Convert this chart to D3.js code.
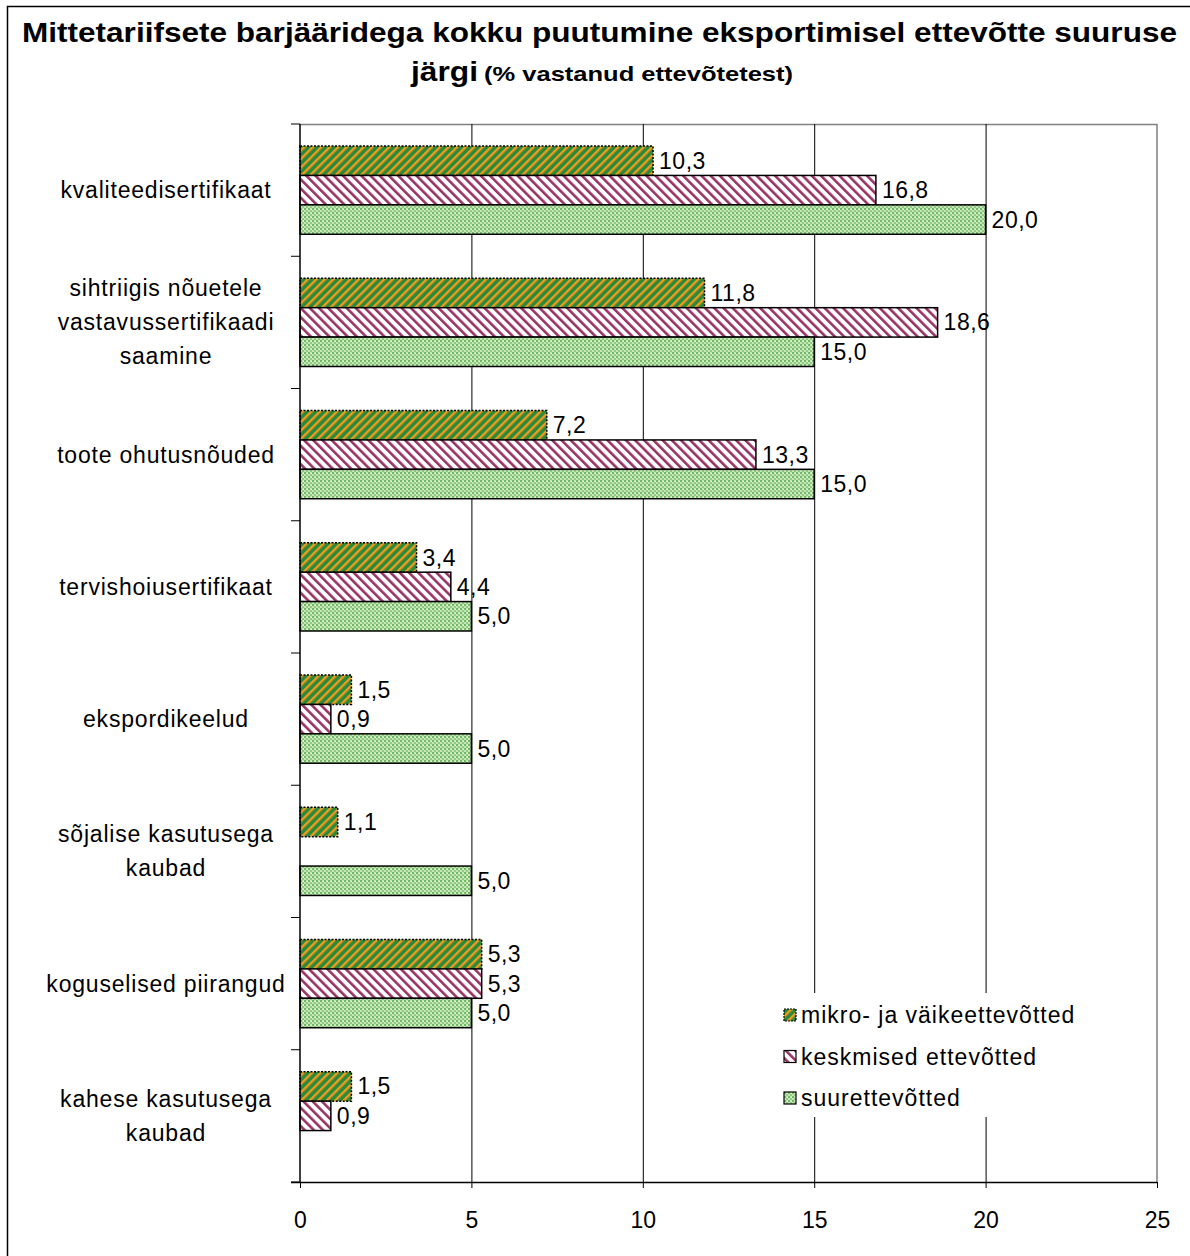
<!DOCTYPE html>
<html>
<head>
<meta charset="utf-8">
<script src="https://cdn.jsdelivr.net/npm/d3@7"></script>
<style>
  body { margin: 0; background: #fff; }
  text { font-family: "Liberation Sans", Arial, sans-serif; fill: #000; }
</style>
</head>
<body>
<div id="chart"></div>
<script>
var categories = [
  "kvaliteedisertifikaat",
  "sihtriigis nõuetele vastavussertifikaadi saamine",
  "toote ohutusnõuded",
  "tervishoiusertifikaat",
  "ekspordikeelud",
  "sõjalise kasutusega kaubad",
  "koguselised piirangud",
  "kahese kasutusega kaubad"
];
var categoryLines = [
  ["kvaliteedisertifikaat"],
  ["sihtriigis nõuetele", "vastavussertifikaadi", "saamine"],
  ["toote ohutusnõuded"],
  ["tervishoiusertifikaat"],
  ["ekspordikeelud"],
  ["sõjalise kasutusega", "kaubad"],
  ["koguselised piirangud"],
  ["kahese kasutusega", "kaubad"]
];
var seriesNames = ["mikro- ja väikeettevõtted", "keskmised ettevõtted", "suurettevõtted"];
var micro = [10.3, 11.8, 7.2, 3.4, 1.5, 1.1, 5.3, 1.5];
var medium = [16.8, 18.6, 13.3, 4.4, 0.9, null, 5.3, 0.9];
var large = [20.0, 15.0, 15.0, 5.0, 5.0, 5.0, 5.0, null];
var xTicks = [0, 5, 10, 15, 20, 25];

var seriesValues = [micro, medium, large];
var width = 1190, height = 1256;

var svg = d3.select("#chart").append("svg")
  .attr("width", width)
  .attr("height", height);

// fill patterns like the old Excel ones
var defs = svg.append("defs");

var p1 = defs.append("pattern")
  .attr("id", "pat0")
  .attr("patternUnits", "userSpaceOnUse")
  .attr("width", 6).attr("height", 6)
  .attr("patternTransform", "rotate(45)");
p1.append("rect").attr("width", 6).attr("height", 6).attr("fill", "#2a8a3a");
p1.append("rect").attr("width", 2.4).attr("height", 6).attr("fill", "#f39a1e");

var p2 = defs.append("pattern")
  .attr("id", "pat1")
  .attr("patternUnits", "userSpaceOnUse")
  .attr("width", 6.5).attr("height", 6.5)
  .attr("patternTransform", "rotate(-45)");
p2.append("rect").attr("width", 6.5).attr("height", 6.5).attr("fill", "#fff");
p2.append("rect").attr("width", 2.6).attr("height", 6.5).attr("fill", "#993366");

var p3 = defs.append("pattern")
  .attr("id", "pat2")
  .attr("patternUnits", "userSpaceOnUse")
  .attr("width", 4).attr("height", 4);
p3.append("rect").attr("width", 4).attr("height", 4).attr("fill", "#c6e6b6");
p3.append("rect").attr("x", 0).attr("y", 0).attr("width", 2).attr("height", 2).attr("fill", "#72b86a");
p3.append("rect").attr("x", 2).attr("y", 2).attr("width", 2).attr("height", 2).attr("fill", "#8fc984");
p3.append("rect").attr("x", 3).attr("y", 1).attr("width", 1).attr("height", 1).attr("fill", "#f4f8dc");

// outer frame
svg.append("rect")
  .attr("x", 7.5).attr("y", 6.5)
  .attr("width", 1200).attr("height", 1300)
  .attr("fill", "none")
  .attr("stroke", "#000")
  .attr("stroke-width", 1.5);

// title
svg.append("text")
  .attr("x", 22).attr("y", 42)
  .attr("font-size", 27)
  .attr("font-weight", "bold")
  .attr("textLength", 1155)
  .attr("lengthAdjust", "spacingAndGlyphs")
  .text("Mittetariifsete barjääridega kokku puutumine eksportimisel ettevõtte suuruse");

svg.append("text")
  .attr("x", 411).attr("y", 81)
  .attr("font-size", 27)
  .attr("font-weight", "bold")
  .attr("textLength", 67)
  .attr("lengthAdjust", "spacingAndGlyphs")
  .text("järgi");
svg.append("text")
  .attr("x", 484).attr("y", 81)
  .attr("font-size", 21)
  .attr("font-weight", "bold")
  .attr("textLength", 309)
  .attr("lengthAdjust", "spacingAndGlyphs")
  .text("(% vastanud ettevõtetest)");

// scales
var x = d3.scaleLinear().domain([0, 25]).range([300, 1157]);
var y = d3.scaleBand()
  .domain(categories)
  .range([124, 1182])
  .paddingInner(0.333)
  .paddingOuter(0.1667);
var ySub = d3.scaleBand()
  .domain(d3.range(seriesValues.length))
  .range([0, y.bandwidth()]);

var fmt = d3.formatLocale({ decimal: ",", thousands: " ", grouping: [3], currency: ["", ""] }).format(".1f");

// plot border (grey)
svg.append("path")
  .attr("d", "M" + x(0) + "," + 124.5 + "H" + x(25) + "V1182")
  .attr("fill", "none")
  .attr("stroke", "#808080")
  .attr("stroke-width", 1.5);

// gridlines
svg.append("g").selectAll("line")
  .data(xTicks.slice(1, -1))
  .join("line")
  .attr("x1", function(d) { return x(d) + 0.5; })
  .attr("x2", function(d) { return x(d) + 0.5; })
  .attr("y1", 124)
  .attr("y2", 1182)
  .attr("stroke", "#000")
  .attr("stroke-width", 1);

// bars
seriesValues.forEach(function(vals, si) {
  var g = svg.append("g");
  var rows = categories.map(function(c, i) { return { cat: c, v: vals[i] }; })
    .filter(function(d) { return d.v != null; });
  g.selectAll("rect")
    .data(rows)
    .join("rect")
    .attr("x", x(0))
    .attr("y", function(d) { return y(d.cat) + ySub(si); })
    .attr("width", function(d) { return x(d.v) - x(0); })
    .attr("height", ySub.bandwidth())
    .attr("fill", "url(#pat" + si + ")")
    .attr("stroke", "#000")
    .attr("stroke-width", 1.5)
    .attr("stroke-dasharray", si === 0 ? "2,1.5" : null);
  g.selectAll("text")
    .data(rows)
    .join("text")
    .attr("x", function(d) { return x(d.v) + 6; })
    .attr("y", function(d) { return y(d.cat) + ySub(si) + ySub.bandwidth() / 2; })
    .attr("dy", "0.35em")
    .attr("font-size", 23)
    .attr("letter-spacing", 0.5)
    .text(function(d) { return fmt(d.v); });
});

// category axis
svg.append("line")
  .attr("x1", x(0)).attr("x2", x(0))
  .attr("y1", 124).attr("y2", 1182)
  .attr("stroke", "#000").attr("stroke-width", 1.5);
var bounds = categories.map(function(c) { return y(c) - y.step() * y.paddingInner() / 2; });
bounds[0] = 124;
bounds.push(1182);
svg.append("g").selectAll("line")
  .data(bounds)
  .join("line")
  .attr("x1", x(0) - 9).attr("x2", x(0))
  .attr("y1", function(d) { return d; })
  .attr("y2", function(d) { return d; })
  .attr("stroke", "#000").attr("stroke-width", 1);

svg.append("g").selectAll("text")
  .data(categories)
  .join("text")
  .attr("text-anchor", "middle")
  .attr("font-size", 23)
  .attr("letter-spacing", 0.8)
  .each(function(c, i) {
    var lines = categoryLines[i];
    var cy = y(c) + y.bandwidth() / 2;
    var lh = 34;
    var top = cy - (lines.length - 1) * lh / 2;
    d3.select(this).selectAll("tspan")
      .data(lines)
      .join("tspan")
      .attr("x", 166)
      .attr("y", function(d, j) { return top + j * lh; })
      .attr("dy", "0.35em")
      .text(function(d) { return d; });
  });

// value axis
var xAxis = d3.axisBottom(x)
  .tickValues(xTicks)
  .tickSize(6)
  .tickPadding(24)
  .tickFormat(d3.format("d"));
var ax = svg.append("g")
  .attr("transform", "translate(0,1182)")
  .call(xAxis);
ax.select(".domain").attr("d", "M" + (x(0) - 9) + ",0.5H" + x(25)).attr("stroke-width", 1.5);
ax.selectAll("text").attr("font-size", 23).attr("font-family", "Liberation Sans, Arial, sans-serif");

// legend (white box hides the gridlines behind it)
var legend = svg.append("g");
legend.append("rect")
  .attr("x", 776).attr("y", 993)
  .attr("width", 314).attr("height", 124)
  .attr("fill", "#fff");
seriesNames.forEach(function(name, i) {
  var ly = 1015 + i * 41.5;
  legend.append("rect")
    .attr("x", 784).attr("y", ly - 6)
    .attr("width", 12).attr("height", 12)
    .attr("fill", "url(#pat" + i + ")")
    .attr("stroke", "#000")
    .attr("stroke-width", 1.2)
    .attr("stroke-dasharray", i === 0 ? "2,1" : null);
  legend.append("text")
    .attr("x", 801).attr("y", ly)
    .attr("dy", "0.35em")
    .attr("font-size", 23)
    .attr("letter-spacing", 1)
    .text(name);
});
</script>
</body>
</html>
